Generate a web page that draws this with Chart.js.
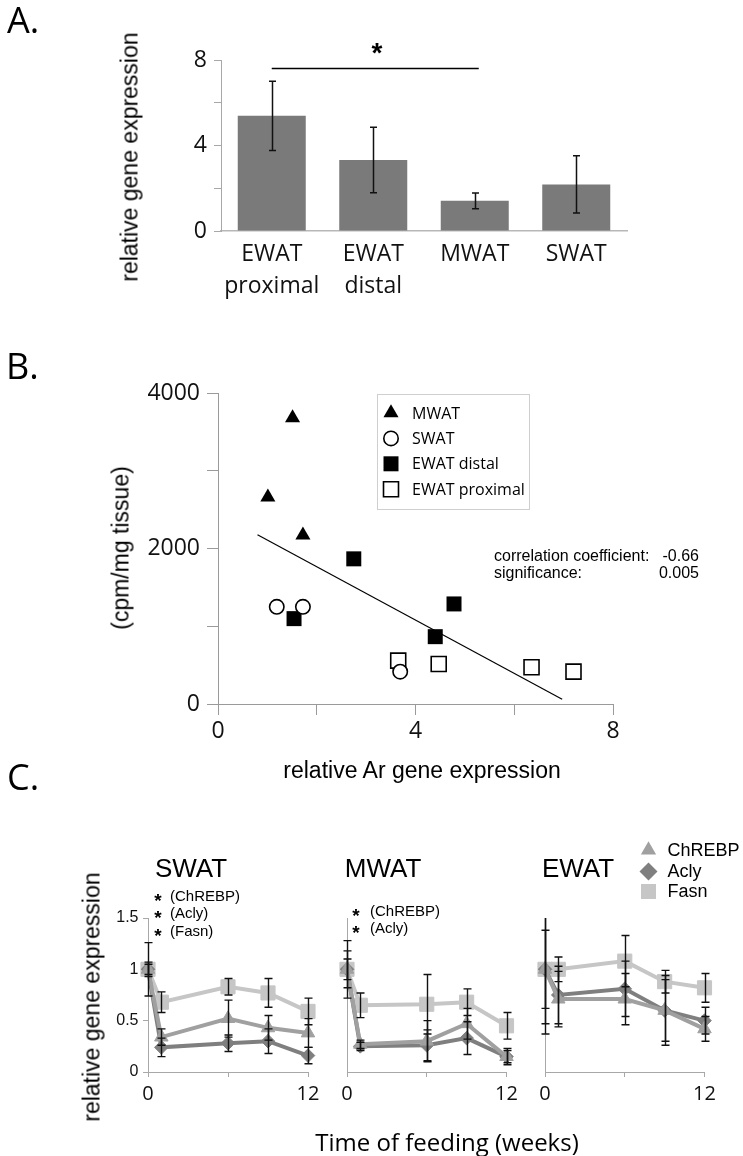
<!DOCTYPE html>
<html><head><meta charset="utf-8">
<script src="https://cdn.jsdelivr.net/npm/chart.js@4.4.1/dist/chart.umd.min.js"></script>
<style>
html,body{margin:0;padding:0;background:#fff;}
body{width:743px;height:1156px;position:relative;overflow:hidden;}
canvas{position:absolute;left:0;}
.t{position:absolute;white-space:nowrap;color:#000;line-height:1;}
.c{transform:translate(-50%,-50%);}
.l{transform:translateY(-50%);}
.v{transform:translate(-50%,-50%) rotate(-90deg);}
.os{font-family:'Open Sans','Liberation Sans',sans-serif;}
.ar{font-family:'Liberation Sans',Arial,sans-serif;}
</style></head><body>
<canvas id="cA" width="743" height="310" style="top:0"></canvas>
<canvas id="cB" width="743" height="440" style="top:330px"></canvas>
<canvas id="cC1" width="743" height="376" style="top:780px"></canvas>
<canvas id="cC2" width="743" height="376" style="top:780px"></canvas>
<canvas id="cC3" width="743" height="376" style="top:780px"></canvas>

<div class="t l os" style="left:7px;top:20px;font-size:36px">A.</div>
<div class="t l os" style="left:6px;top:366px;font-size:36px">B.</div>
<div class="t l os" style="left:7px;top:777px;font-size:36px">C.</div>

<div class="t v ar" style="left:130px;top:157px;font-size:23px">relative gene expression</div>
<div class="t c ar" style="left:377px;top:53px;font-size:28px;font-weight:bold">*</div>

<div class="t v ar" style="left:121px;top:548px;font-size:23px">(cpm/mg tissue)</div>
<div class="t c ar" style="left:422px;top:770px;font-size:23px">relative Ar gene expression</div>
<div class="t l ar" style="left:494px;top:556px;width:205px;font-size:16px;display:flex;justify-content:space-between"><span>correlation coefficient:</span><span>-0.66</span></div>
<div class="t l ar" style="left:494px;top:573px;width:205px;font-size:16px;display:flex;justify-content:space-between"><span>significance:</span><span>0.005</span></div>

<div class="t c ar" style="left:191px;top:868px;font-size:26px">SWAT</div>
<div class="t c ar" style="left:383px;top:868px;font-size:26px">MWAT</div>
<div class="t c ar" style="left:578px;top:868px;font-size:26px">EWAT</div>

<div class="t c ar" style="left:158px;top:900px;font-size:19px;font-weight:bold">*</div>
<div class="t l ar" style="left:170px;top:895px;font-size:15px">(ChREBP)</div>
<div class="t c ar" style="left:158px;top:917px;font-size:19px;font-weight:bold">*</div>
<div class="t l ar" style="left:170px;top:912px;font-size:15px">(Acly)</div>
<div class="t c ar" style="left:158px;top:935px;font-size:19px;font-weight:bold">*</div>
<div class="t l ar" style="left:170px;top:930px;font-size:15px">(Fasn)</div>

<div class="t c ar" style="left:356px;top:915px;font-size:19px;font-weight:bold">*</div>
<div class="t l ar" style="left:370px;top:910px;font-size:15px">(ChREBP)</div>
<div class="t c ar" style="left:356px;top:932px;font-size:19px;font-weight:bold">*</div>
<div class="t l ar" style="left:370px;top:927px;font-size:15px">(Acly)</div>

<div class="t v ar" style="left:92px;top:997px;font-size:23px">relative gene expression</div>
<div class="t c os" style="left:447px;top:1142px;font-size:24px">Time of feeding (weeks)</div>

<script>
// ---------- Panel A data ----------
const tissuesA = [['EWAT', 'proximal'], ['EWAT', 'distal'], ['MWAT'], ['SWAT']];
const exprA = [5.39, 3.32, 1.41, 2.18];
const errA = [1.62, 1.53, 0.37, 1.34];
const yLabelsA = [0, 4, 8];
const sigPairA = [0, 2];
const sigLevelA = 7.62;

// ---------- Panel B data ----------
const mwatX = [1.51, 1.01, 1.72];
const mwatY = [3680, 2660, 2171];
const swatX = [1.19, 1.72, 3.69];
const swatY = [1250, 1250, 416];
const ewatDistalX = [2.75, 4.78, 1.54, 4.40];
const ewatDistalY = [1867, 1287, 1098, 866];
const ewatProxX = [3.65, 4.47, 6.35, 7.20];
const ewatProxY = [558, 515, 472, 416];
const fitX = [0.80, 6.97];
const fitY = [2176, 60];
const xLabelsB = [0, 4, 8];
const yLabelsB = [0, 2000, 4000];

// ---------- Panel C data ----------
const weeks = [0, 1, 6, 9, 12];
const xLabelsC = [0, 12];
const swatChrebp = [1.0, 0.34, 0.52, 0.43, 0.38];
const swatChrebpErr = [0.07, 0.08, 0.18, 0.12, 0.14];
const swatAcly = [1.0, 0.24, 0.28, 0.30, 0.16];
const swatAclyErr = [0.05, 0.09, 0.08, 0.12, 0.08];
const swatFasn = [1.0, 0.68, 0.83, 0.77, 0.59];
const swatFasnErr = [0.26, 0.10, 0.08, 0.14, 0.13];

const mwatChrebp = [1.0, 0.27, 0.30, 0.47, 0.15];
const mwatChrebpErr = [0.18, 0.04, 0.20, 0.15, 0.06];
const mwatAcly = [1.0, 0.25, 0.26, 0.33, 0.15];
const mwatAclyErr = [0.10, 0.04, 0.15, 0.16, 0.08];
const mwatFasn = [1.0, 0.65, 0.66, 0.68, 0.45];
const mwatFasnErr = [0.28, 0.12, 0.29, 0.13, 0.13];

const ewatChrebp = [1.0, 0.71, 0.71, 0.60, 0.42];
const ewatChrebpErr = [0.63, 0.27, 0.25, 0.34, 0.12];
const ewatAcly = [1.0, 0.75, 0.81, 0.60, 0.50];
const ewatAclyErr = [0.38, 0.28, 0.27, 0.30, 0.13];
const ewatFasn = [1.0, 1.00, 1.08, 0.88, 0.82];
const ewatFasnErr = [0.53, 0.12, 0.25, 0.11, 0.14];

// ---------- helpers ----------
const OPEN = "'Open Sans', 'Liberation Sans', sans-serif";
const ARIAL = "'Liberation Sans', Arial, sans-serif";
const COL_CHREBP = '#a0a0a0', COL_ACLY = '#7f7f7f', COL_FASN = '#c6c6c6';

function drawMark(ctx, style, x, y, r, fill, stroke, lw) {
  ctx.beginPath();
  if (style === 'triangle') {
    for (let k = 0; k < 3; k++) {
      const a = k * 2 * Math.PI / 3;
      const px = x + Math.sin(a) * r, py = y - Math.cos(a) * r;
      if (k) ctx.lineTo(px, py); else ctx.moveTo(px, py);
    }
    ctx.closePath();
  } else if (style === 'rect') {
    const s = r * Math.SQRT1_2; ctx.rect(x - s, y - s, 2 * s, 2 * s);
  } else if (style === 'rectRot') {
    ctx.moveTo(x - r, y); ctx.lineTo(x, y - r); ctx.lineTo(x + r, y); ctx.lineTo(x, y + r); ctx.closePath();
  } else {
    ctx.arc(x, y, r, 0, Math.PI * 2);
  }
  ctx.fillStyle = fill; ctx.fill();
  if (lw) { ctx.strokeStyle = stroke; ctx.lineWidth = lw; ctx.stroke(); }
}

function makeErrPlugin(cap, lw, color, clipTop) {
  return {
    id: 'errBars',
    afterDatasetsDraw(chart) {
      const ctx = chart.ctx, ys = chart.scales.y, area = chart.chartArea;
      ctx.save();
      ctx.strokeStyle = color; ctx.lineWidth = lw;
      chart.data.datasets.forEach((ds, i) => {
        if (!ds.errors) return;
        const meta = chart.getDatasetMeta(i);
        meta.data.forEach((el, j) => {
          const e = ds.errors[j];
          if (e == null) return;
          const d = ds.data[j];
          const v = (typeof d === 'object') ? d.y : d;
          const x = Math.round(el.x) + 0.5;
          let top = ys.getPixelForValue(v + e);
          const bot = ys.getPixelForValue(v - e);
          let topCap = true;
          if (clipTop && top < area.top) { top = area.top; topCap = false; }
          ctx.beginPath();
          ctx.moveTo(x, top); ctx.lineTo(x, bot);
          if (topCap) { ctx.moveTo(x - cap, top); ctx.lineTo(x + cap, top); }
          ctx.moveTo(x - cap, bot); ctx.lineTo(x + cap, bot);
          ctx.stroke();
        });
      });
      ctx.restore();
    }
  };
}

const sigPlugin = {
  id: 'sigA',
  afterDatasetsDraw(chart) {
    const ctx = chart.ctx, xs = chart.scales.x, ys = chart.scales.y;
    const y = Math.round(ys.getPixelForValue(sigLevelA)) + 0.5;
    ctx.save();
    ctx.strokeStyle = '#000'; ctx.lineWidth = 1.4;
    ctx.beginPath();
    ctx.moveTo(xs.getPixelForValue(sigPairA[0]), y);
    ctx.lineTo(xs.getPixelForValue(sigPairA[1]) + 4, y);
    ctx.stroke();
    ctx.restore();
  }
};

// ---------- Panel A ----------
new Chart(document.getElementById('cA'), {
  type: 'bar',
  data: {
    labels: tissuesA,
    datasets: [{ data: exprA, errors: errA, backgroundColor: '#7a7a7a', borderWidth: 0,
      barPercentage: 0.67, categoryPercentage: 1 }]
  },
  options: {
    responsive: false, animation: false, events: [],
    layout: { padding: { left: 0, top: 60, right: 116, bottom: 0 } },
    plugins: { legend: { display: false }, tooltip: { enabled: false } },
    scales: {
      x: {
        grid: { display: false, drawTicks: false },
        border: { display: true, color: '#b8b8b8', width: 1.5 },
        ticks: { font: { family: OPEN, size: 23, lineHeight: 1.38 }, color: '#111', padding: 8, maxRotation: 0, autoSkip: false },
        afterFit: s => { s.height = 79; }
      },
      y: {
        min: 0, max: 8,
        ticks: { stepSize: 2, callback: v => yLabelsA.includes(v) ? String(v) : '', font: { family: OPEN, size: 23 }, color: '#111', padding: 7 },
        grid: { drawOnChartArea: false, tickLength: 7, color: '#a8a8a8' },
        border: { color: '#a8a8a8' },
        afterFit: s => { s.width = 221; }
      }
    }
  },
  plugins: [makeErrPlugin(3.5, 1.5, '#111', false), sigPlugin]
});

// ---------- Panel B ----------
const toPts = (xs, ys) => xs.map((x, i) => ({ x, y: ys[i] }));
const legendB = {
  id: 'legendB',
  afterDraw(chart) {
    const ctx = chart.ctx, a = chart.chartArea;
    const x0 = a.left + 159, y0 = a.top + 1, w = 152, h = 115;
    ctx.save();
    ctx.strokeStyle = '#cfcfcf'; ctx.lineWidth = 1;
    ctx.strokeRect(Math.round(x0) + 0.5, Math.round(y0) + 0.5, w, h);
    ctx.font = "16px " + OPEN; ctx.textBaseline = 'middle'; ctx.fillStyle = '#000';
    let k = 0;
    chart.data.datasets.forEach(ds => {
      if (!ds.inLegend) return;
      const cy = y0 + 19 + k * 25.4;
      drawMark(ctx, ds.pointStyle, x0 + 14, cy, ds.pointRadius, ds.pointBackgroundColor, ds.pointBorderColor, ds.pointBorderWidth);
      ctx.fillStyle = '#000';
      ctx.fillText(ds.label, x0 + 35, cy + 1);
      k++;
    });
    ctx.restore();
  }
};

new Chart(document.getElementById('cB'), {
  type: 'scatter',
  data: {
    datasets: [
      { label: 'fit', data: toPts(fitX, fitY), showLine: true, pointRadius: 0, borderColor: '#000', borderWidth: 1.2, order: 10, clip: false },
      { label: 'MWAT', inLegend: true, data: toPts(mwatX, mwatY), pointStyle: 'triangle', pointRadius: 8.7, pointBackgroundColor: '#000', pointBorderColor: '#000', pointBorderWidth: 0, order: 1, clip: false },
      { label: 'SWAT', inLegend: true, data: toPts(swatX, swatY), pointStyle: 'circle', pointRadius: 7.2, pointBackgroundColor: '#fff', pointBorderColor: '#000', pointBorderWidth: 1.6, order: 0, clip: false },
      { label: 'EWAT distal', inLegend: true, data: toPts(ewatDistalX, ewatDistalY), pointStyle: 'rect', pointRadius: 10.6, pointBackgroundColor: '#000', pointBorderColor: '#000', pointBorderWidth: 0, order: 1, clip: false },
      { label: 'EWAT proximal', inLegend: true, data: toPts(ewatProxX, ewatProxY), pointStyle: 'rect', pointRadius: 10.6, pointBackgroundColor: '#fff', pointBorderColor: '#000', pointBorderWidth: 1.6, order: 2, clip: false }
    ]
  },
  options: {
    responsive: false, animation: false, events: [],
    layout: { padding: { left: 0, top: 63, right: 130, bottom: 0 } },
    plugins: { legend: { display: false }, tooltip: { enabled: false } },
    scales: {
      x: {
        type: 'linear', min: 0, max: 8,
        ticks: { stepSize: 2, callback: v => xLabelsB.includes(v) ? String(v) : '', font: { family: OPEN, size: 23 }, color: '#111', padding: 3 },
        grid: { drawOnChartArea: false, tickLength: 11, color: '#9a9a9a' },
        border: { color: '#9a9a9a' },
        afterFit: s => { s.height = 66; }
      },
      y: {
        min: 0, max: 4000,
        ticks: { stepSize: 1000, callback: v => yLabelsB.includes(v) ? String(v) : '', font: { family: OPEN, size: 23 }, color: '#111', padding: 7 },
        grid: { drawOnChartArea: false, tickLength: 11, color: '#9a9a9a' },
        border: { color: '#9a9a9a' },
        afterFit: s => { s.width = 218; }
      }
    }
  },
  plugins: [legendB]
});

// ---------- Panel C ----------
function series(label, vals, errs, style, color, radius, order) {
  return {
    label, data: weeks.map((w, i) => ({ x: w, y: vals[i] })), errors: errs,
    borderColor: color, backgroundColor: color, borderWidth: 4,
    pointStyle: style, pointRadius: radius, pointBackgroundColor: color, pointBorderColor: color, pointBorderWidth: 1,
    order, clip: false, tension: 0
  };
}

const legendC = {
  id: 'legendC',
  afterDraw(chart) {
    const ctx = chart.ctx, a = chart.chartArea;
    const mx = a.left + 103.5;
    const rows = [-68, -46.5, -26.5];
    const sizes = [8.8, 9, 10.6];
    ctx.save();
    ctx.font = "18px " + ARIAL; ctx.textBaseline = 'middle';
    chart.data.datasets.forEach((ds, k) => {
      const cy = a.top + rows[k];
      drawMark(ctx, ds.pointStyle, mx, cy, sizes[k], ds.pointBackgroundColor, ds.pointBorderColor, 0);
      ctx.fillStyle = '#000';
      ctx.fillText(ds.label, mx + 19, cy + 1);
    });
    ctx.restore();
  }
};

function makeC(id, left, right, showY, chrebp, chrebpErr, acly, aclyErr, fasn, fasnErr, extraPlugins) {
  return new Chart(document.getElementById(id), {
    type: 'line',
    data: {
      datasets: [
        series('ChREBP', chrebp, chrebpErr, 'triangle', COL_CHREBP, 7.8, 0),
        series('Acly', acly, aclyErr, 'rectRot', COL_ACLY, 6.8, 1),
        series('Fasn', fasn, fasnErr, 'rect', COL_FASN, 10, 2)
      ]
    },
    options: {
      responsive: false, animation: false, events: [],
      layout: { padding: { left: 0, top: 138, right: 743 - right, bottom: 0 } },
      plugins: { legend: { display: false }, tooltip: { enabled: false } },
      scales: {
        x: {
          type: 'linear', min: 0, max: 12,
          ticks: { stepSize: 6, callback: v => xLabelsC.includes(v) ? String(v) : '', font: { family: OPEN, size: 20 }, color: '#111', padding: 5 },
          grid: { drawOnChartArea: false, tickLength: 5, color: '#a8a8a8' },
          border: { color: '#a8a8a8' },
          afterFit: s => { s.height = 84; }
        },
        y: {
          min: 0, max: 1.5,
          ticks: { display: showY, stepSize: 0.5, callback: v => String(v), font: { family: ARIAL, size: 16 }, color: '#111', padding: 4.5 },
          grid: { drawOnChartArea: false, drawTicks: showY, tickLength: 5, color: '#a8a8a8' },
          border: { color: '#a8a8a8' },
          afterFit: s => { s.width = left; }
        }
      }
    },
    plugins: [makeErrPlugin(4, 1.4, '#111', true)].concat(extraPlugins || [])
  });
}

makeC('cC1', 148, 308, true, swatChrebp, swatChrebpErr, swatAcly, swatAclyErr, swatFasn, swatFasnErr);
makeC('cC2', 347, 506.5, false, mwatChrebp, mwatChrebpErr, mwatAcly, mwatAclyErr, mwatFasn, mwatFasnErr);
makeC('cC3', 545, 704.5, false, ewatChrebp, ewatChrebpErr, ewatAcly, ewatAclyErr, ewatFasn, ewatFasnErr, [legendC]);
</script>
</body></html>
